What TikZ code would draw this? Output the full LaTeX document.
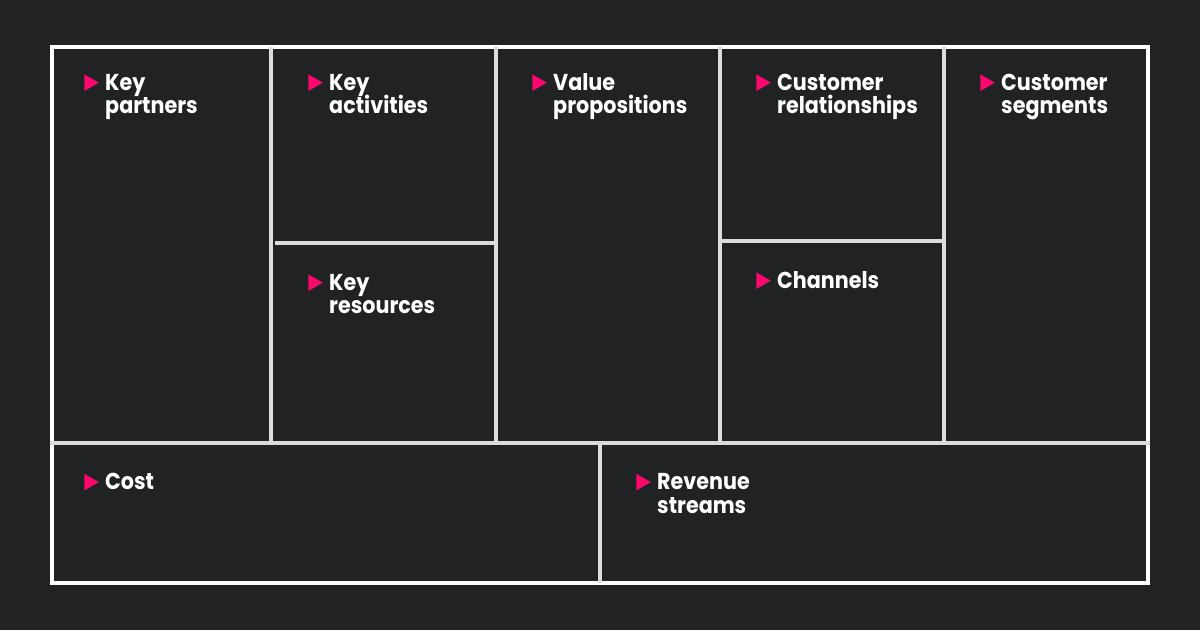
\documentclass[tikz,border=0pt]{standalone}
\usepackage{fontspec}
\setmainfont{Poppins}[FakeStretch=0.9]
\definecolor{bgc}{RGB}{33,34,36}
\definecolor{linec}{RGB}{220,220,220}
\definecolor{pinkc}{RGB}{250,8,108}
\tikzset{
  lbl/.style={anchor=base west, inner sep=0pt, text=white, font=\fontsize{23}{23.5}\selectfont\bfseries},
  grid/.style={draw=linec, line width=4pt},
  outer/.style={draw=white, line width=4pt},
}
\newcommand{\twoline}[2]{\vtop{\baselineskip=23.5pt\lineskiplimit=-100pt\hbox{#1}\hbox{#2}}}
\newcommand{\pinkmark}[1]{\fill[pinkc] ([shift={(-20.7,-15.7)}]#1.base west) -- ([shift={(-20.7,1)}]#1.base west) -- ([shift={(-6.2,-7.35)}]#1.base west) -- cycle;}
\begin{document}
\begin{tikzpicture}[x=1pt,y=-1pt]
\fill[bgc] (0,0) rectangle (1200,630);
\useasboundingbox (0,0) rectangle (1200,630);
% outer border
\draw[outer] (52,47) rectangle (1148,583);
% grid lines
\draw[grid] (271.3,47) -- (271.3,443);
\draw[grid] (496,47) -- (496,443);
\draw[grid] (720,47) -- (720,443);
\draw[grid] (944,47) -- (944,443);
\draw[grid] (50,443) -- (1150,443);
\draw[grid] (600,443) -- (600,583);
\draw[grid] (275,243) -- (496,243);
\draw[grid] (720,241) -- (944,241);
% labels
\node[lbl] (kp) at (105,90) {\twoline{Key}{partners}};
\node[lbl] (ka) at (329,90) {\twoline{Key}{activities}};
\node[lbl] (vp) at (553,90) {\twoline{Value}{propositions}};
\node[lbl] (cr) at (777,90) {\twoline{Customer}{relationships}};
\node[lbl] (cs) at (1001,90) {\twoline{Customer}{segments}};
\node[lbl] (kr) at (329,290) {\twoline{Key}{resources}};
\node[lbl] (ch) at (777,288) {Channels};
\node[lbl] (co) at (105,489.5) {Cost};
\node[lbl] (rs) at (657,489.5) {\twoline{Revenue}{streams}};
\pinkmark{kp}\pinkmark{ka}\pinkmark{vp}\pinkmark{cr}\pinkmark{cs}\pinkmark{kr}\pinkmark{ch}\pinkmark{co}\pinkmark{rs}
\end{tikzpicture}
\end{document}
